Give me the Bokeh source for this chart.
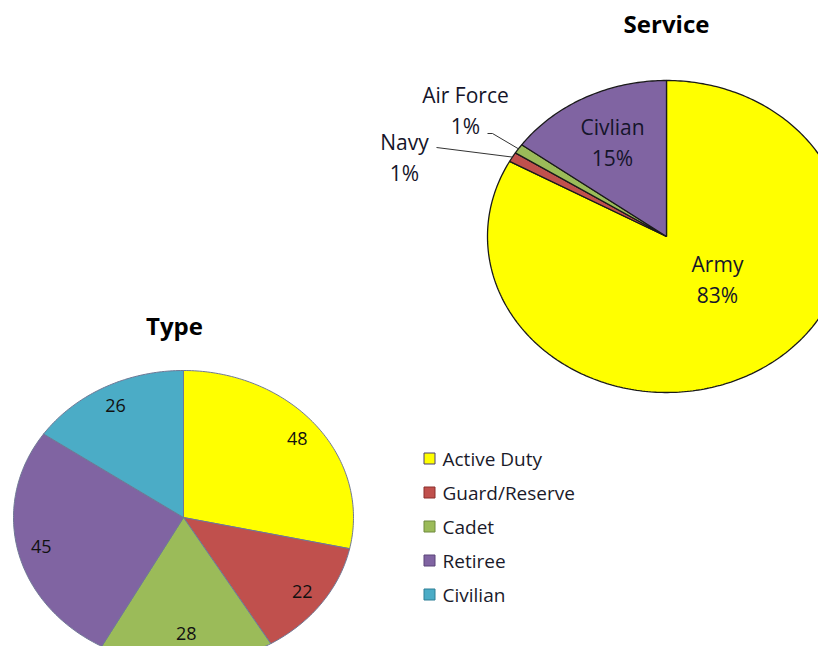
import numpy as np
from bokeh.plotting import figure
from bokeh.models import Range1d, ColumnDataSource
from bokeh.core.properties import value
from bokeh.embed import file_html
from bokeh.resources import INLINE

# ---------------- data ----------------
service_names = ["Army", "Navy", "Air Force", "Civlian"]
service_pct = [83, 1, 1, 15]
service_colors = ["#FFFF00", "#C0504D", "#9BBB59", "#8064A2"]

type_names = ["Active Duty", "Guard/Reserve", "Cadet", "Retiree", "Civilian"]
type_counts = [48, 22, 28, 45, 26]
type_colors = ["#FFFF00", "#C0504D", "#9BBB59", "#8064A2", "#4BACC6"]

# ---------------- layout ----------------
W, H = 818, 646
FONT = "Open Sans"

p = figure(width=W, height=H, output_backend="svg", toolbar_location=None,
           x_range=Range1d(0, W), y_range=Range1d(H, 0),
           min_border=0, x_axis_location=None, y_axis_location=None)
p.grid.visible = False
p.outline_line_color = None
p.background_fill_color = "white"
p.border_fill_color = "white"


def pie_polys(values, cx, cy, rx, ry):
    vals = np.asarray(values, dtype=float)
    ends = np.cumsum(vals) / vals.sum()
    starts = np.concatenate([[0.0], ends[:-1]])
    xs, ys, mids = [], [], []
    for s, e in zip(starts, ends):
        n = max(3, int((e - s) * 400))
        t = np.radians(90 - 360 * np.linspace(s, e, n))
        xs.append(list(np.concatenate([[cx], cx + rx * np.cos(t)])))
        ys.append(list(np.concatenate([[cy], cy - ry * np.sin(t)])))
        mids.append(np.radians(90 - 360 * (s + e) / 2))
    return xs, ys, np.array(mids)


TXT = "#15152a"

# ---------------- Service pie ----------------
scx, scy, srx, sry = 666, 236, 179, 156
sxs, sys_, smid = pie_polys(service_pct, scx, scy, srx, sry)
p.patches(xs="xs", ys="ys", fill_color="color", line_color="#1a1a1a", line_width=1.3,
          source=ColumnDataSource(dict(xs=sxs, ys=sys_, color=service_colors)))

p.text(x=[scx], y=[23], text=["Service"], text_font=value(FONT), text_font_style="bold",
       text_font_size="24px", text_align="center", text_baseline="middle", text_color="#000000")

# label anchors (layout) for Army, Navy, Air Force, Civlian
lab_x = [717, 404, 465, 612]
lab_y = [279, 157, 110, 142]
p.text(x=lab_x, y=[v - 15.5 for v in lab_y], text=service_names, text_font=value(FONT),
       text_font_size="21px", text_align="center", text_baseline="middle", text_color=TXT)
p.text(x=lab_x, y=[v + 15.5 for v in lab_y], text=[f"{v}%" for v in service_pct],
       text_font=value(FONT), text_font_size="21px", text_align="center",
       text_baseline="middle", text_color=TXT)

# leader lines for the two small slices
edge_x = scx + srx * np.cos(smid)
edge_y = scy - sry * np.sin(smid)
p.line(x=[487, 492, edge_x[2]], y=[133, 133, edge_y[2]], line_color="#333333", line_width=1)
p.line(x=[436, edge_x[1]], y=[147, edge_y[1]], line_color="#333333", line_width=1)

# ---------------- Type pie ----------------
tcx, tcy, trx, try_ = 183, 517, 170, 147
txs, tys, tmid = pie_polys(type_counts, tcx, tcy, trx, try_)
p.patches(xs="xs", ys="ys", fill_color="color", line_color="#6f7895", line_width=1,
          source=ColumnDataSource(dict(xs=txs, ys=tys, color=type_colors)))

p.text(x=[174], y=[325], text=["Type"], text_font=value(FONT), text_font_style="bold",
       text_font_size="24px", text_align="center", text_baseline="middle", text_color="#000000")

lr = 0.86
lab_tx = tcx + lr * trx * np.cos(tmid)
lab_ty = np.minimum(tcy - lr * try_ * np.sin(tmid), H - 13)  # keep inside the canvas
p.text(x=lab_tx, y=lab_ty,
       text=[str(v) for v in type_counts], text_font=value(FONT), text_font_size="18px",
       text_align="center", text_baseline="middle", text_color="#111111")

# ---------------- Legend ----------------
leg_x, leg_y0, pitch = 429, 458, 34
ly = [leg_y0 + i * pitch for i in range(len(type_names))]
p.scatter(x=[leg_x] * len(type_names), y=ly, marker="square", size=11,
          fill_color=type_colors, line_color=["#4a3f70", "#8b2f2c", "#6f8a3e", "#5a4578", "#2f7f95"],
          line_width=1)
p.text(x=[leg_x + 13] * len(type_names), y=ly, text=type_names, text_font=value(FONT),
       text_font_size="19px", text_align="left", text_baseline="middle", text_color="#1a1a2a")

open("out.html", "w").write(file_html(p, INLINE))
